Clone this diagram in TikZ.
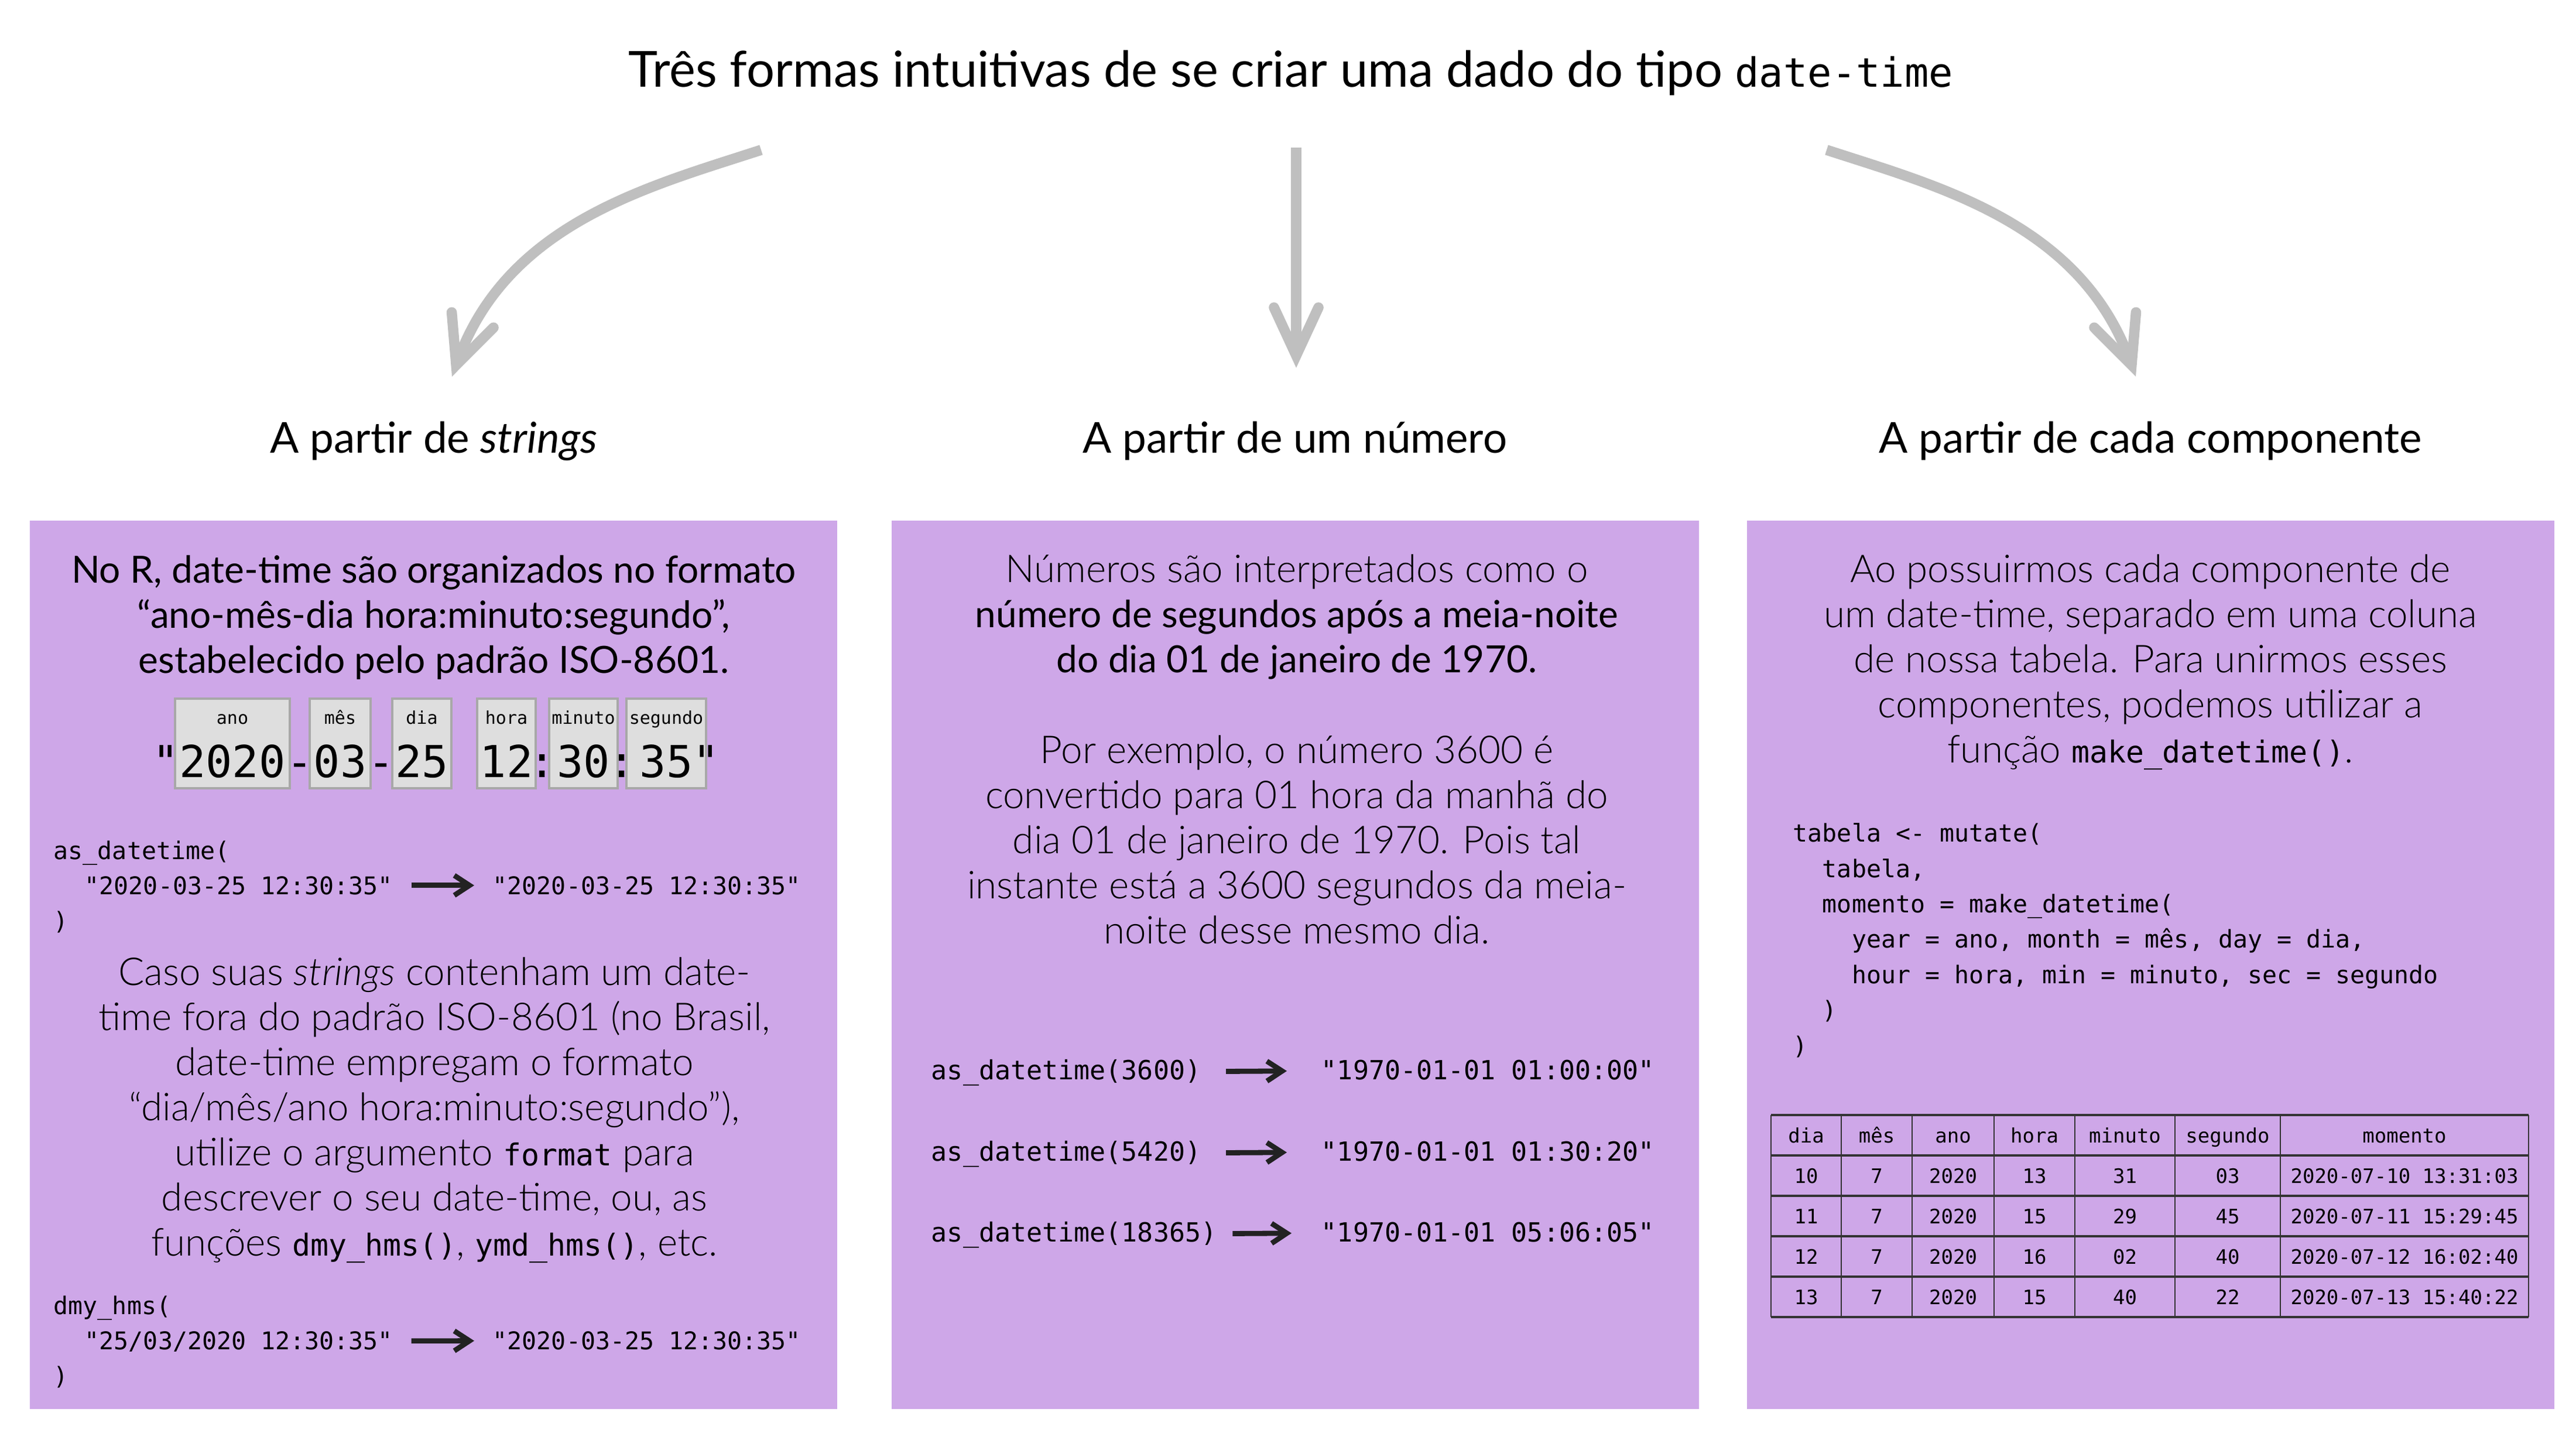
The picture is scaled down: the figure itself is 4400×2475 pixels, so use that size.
\documentclass[tikz,border=0pt]{standalone}
\usepackage{fontspec}
\setmainfont{Lato}
\newfontfamily\lightf{Lato Light}
\setmonofont{DejaVu Sans Mono}
\usetikzlibrary{arrows.meta}

\definecolor{panelc}{RGB}{206,167,232}
\definecolor{arrowgray}{RGB}{191,191,191}
\definecolor{boxfill}{RGB}{222,222,222}
\definecolor{boxline}{RGB}{168,168,168}
\definecolor{ink}{RGB}{34,34,34}
\definecolor{tline}{RGB}{51,51,51}

\newcommand\ic[1]{{\fontsize{12.9pt}{19.25pt}\ttfamily #1}}
\newcommand\lightsz{\lightf\fontsize{16.4pt}{19.25pt}\selectfont}

\begin{document}
\begin{tikzpicture}[x=0.25pt,y=-0.25pt,
  panel/.style={fill=panelc},
  bigarrow/.style={draw=arrowgray, line width=4.4pt,
    -{Straight Barb[length=20.5pt,width=19pt,line cap=round,line join=miter]}},
  codearrow/.style={draw=ink, line width=2.2pt,
    -{Straight Barb[length=6.5pt,width=8.5pt]}},
  titletext/.style={font=\fontsize{21.2pt}{25pt}\selectfont, inner sep=0pt, anchor=base},
  subtitle/.style={font=\fontsize{18.2pt}{22pt}\selectfont, inner sep=0pt, anchor=base},
  para/.style={font=\fontsize{16pt}{19.25pt}\selectfont, align=center, inner sep=0pt, anchor=base},
  lpara/.style={para, font=\lightsz},
  codetxt/.style={font=\fontsize{10.4pt}{15.1pt}\selectfont\ttfamily, inner sep=0pt, anchor=base west, align=left},
  mcodetxt/.style={codetxt, font=\fontsize{11.25pt}{15pt}\selectfont\ttfamily},
  tbox/.style={fill=boxfill, draw=boxline, line width=1pt},
  tlabel/.style={font=\fontsize{7.5pt}{9pt}\selectfont\ttfamily, inner sep=0pt, anchor=base},
  tdigit/.style={font=\fontsize{18.8pt}{22pt}\selectfont\ttfamily, inner sep=0pt, anchor=base},
  tcell/.style={font=\fontsize{8.5pt}{10pt}\selectfont\ttfamily, inner sep=0pt, anchor=base},
  thline/.style={draw=tline, line width=1.1pt},
  tvline/.style={draw=tline, line width=0.5pt},
]
\useasboundingbox (0,0) rectangle (4400,2475);
\fill[white] (0,0) rectangle (4400,2475);

% title and subtitles (multi-line nodes are anchored at the baseline of their last line)
\node[titletext] (title) at (2205,148) {Três formas intuitivas de se criar uma dado do tipo {\fontsize{17.2pt}{20pt}\ttfamily date-time}};
\node[subtitle] (sL) at (741,773) {A partir de \textit{strings}};
\node[subtitle] (sM) at (2212,773) {A partir de um número};
\node[subtitle] (sR) at (3673,773) {A partir de cada componente};

% big arrows
\coordinate (aL0) at (1300,256); \coordinate (aL1) at (772,643);
\coordinate (aM0) at (2214,252); \coordinate (aM1) at (2214,628);
\coordinate (aR0) at (3120,256); \coordinate (aR1) at (3648,643);
\draw[bigarrow] (aL0) .. controls (1110,318) and (868,380) .. (aL1);
\draw[bigarrow] (aM0) -- (aM1);
\draw[bigarrow] (aR0) .. controls (3310,318) and (3552,380) .. (aR1);

% panels
\fill[panel] (51,889) rectangle (1430,2406);
\fill[panel] (1523,889) rectangle (2902,2406);
\fill[panel] (2984,889) rectangle (4363,2406);

% ---------- left panel ----------
\node[para] (lp1) at (741,1149) {No R, date-time são organizados no formato\\“ano-mês-dia hora:minuto:segundo”,\\estabelecido pelo padrão ISO-8601.};

\foreach \n/\xa/\xb/\lab/\dig in {ano/299/495/ano/2020, mes/529/633/mês/03, dia/670/771/dia/25, hora/815/915/hora/12, min/938/1055/minuto/30, seg/1070/1206/segundo/35}{
  \draw[tbox] (\xa,1193) rectangle (\xb,1346);
  \node[tlabel] (lab-\n) at ({(\xa+\xb)/2},1236) {\lab};
  \node[tdigit] (dig-\n) at ({(\xa+\xb)/2},1327) {\dig};
}
\node[tdigit] (q1) at (283,1327) {"};
\node[tdigit] (s1) at (512,1327) {-};
\node[tdigit] (s2) at (651,1327) {-};
\node[tdigit] (k1) at (926.5,1327) {:};
\node[tdigit] (k2) at (1062.5,1327) {:};
\node[tdigit] (q2) at (1206,1327) {"};

\node[codetxt] (c1a) at (91,1467) {as\_datetime(};
\node[codetxt] (c1b) at (144,1527) {"2020-03-25 12:30:35"};
\node[codetxt] (c1c) at (841,1527) {"2020-03-25 12:30:35"};
\node[codetxt] (c1d) at (91,1587) {)};
\draw[codearrow, shorten <=7.75pt, shorten >=7.75pt] (c1b) -- (c1c);

\node[lpara] (lp2) at (742,2144) {Caso suas \textit{strings} contenham um date-\\time fora do padrão ISO-8601 (no Brasil,\\date-time empregam o formato\\“dia/mês/ano hora:minuto:segundo”),\\utilize o argumento \ic{format} para\\descrever o seu date-time, ou, as\\funções \ic{dmy\_hms()}, \ic{ymd\_hms()}, etc.};

\node[codetxt] (c2a) at (91,2244) {dmy\_hms(};
\node[codetxt] (c2b) at (144,2304) {"25/03/2020 12:30:35"};
\node[codetxt] (c2c) at (841,2304) {"2020-03-25 12:30:35"};
\node[codetxt] (c2d) at (91,2364) {)};
\draw[codearrow, shorten <=7.75pt, shorten >=7.75pt] (c2b) -- (c2c);

% ---------- middle panel ----------
\node[para] (mp1) at (2215,1148) {{\lightsz Números são interpretados como o}\\número de segundos após a meia-noite\\do dia 01 de janeiro de 1970.};
\node[lpara] (mp2) at (2215,1611) {Por exemplo, o número 3600 é\\convertido para 01 hora da manhã do\\dia 01 de janeiro de 1970. Pois tal\\instante está a 3600 segundos da meia-\\noite desse mesmo dia.};

\node[mcodetxt] (m1a) at (1590,1843) {as\_datetime(3600)};
\node[mcodetxt] (m1b) at (2256,1843) {"1970-01-01 01:00:00"};
\node[mcodetxt] (m2a) at (1590,1982) {as\_datetime(5420)};
\node[mcodetxt] (m2b) at (2256,1982) {"1970-01-01 01:30:20"};
\node[mcodetxt] (m3a) at (1590,2120) {as\_datetime(18365)};
\node[mcodetxt] (m3b) at (2256,2120) {"1970-01-01 05:06:05"};
\draw[codearrow, shorten <=10.5pt, shorten >=14.5pt] (m1a) -- (m1b);
\draw[codearrow, shorten <=10.5pt, shorten >=14.5pt] (m2a) -- (m2b);
\draw[codearrow, shorten <=6.5pt, shorten >=12.5pt] (m3a) -- (m3b);

% ---------- right panel ----------
\node[lpara] (rp1) at (3673,1302) {Ao possuirmos cada componente de\\um date-time, separado em uma coluna\\de nossa tabela. Para unirmos esses\\componentes, podemos utilizar a\\função \ic{make\_datetime()}.};

\node[codetxt] (rc) at (3062,1800) {tabela <- mutate(\\
\ \ tabela,\\
\ \ momento = make\_datetime(\\
\ \ \ \ year = ano, month = mês, day = dia,\\
\ \ \ \ hour = hora, min = minuto, sec = segundo\\
\ \ )\\
)};

% table
\foreach \y in {1904,1973,2042,2111,2180,2249} \draw[thline] (3025,\y) -- (4319,\y);
\foreach \x in {3025,3145,3266,3406,3544,3715,3895,4319} \draw[tvline] (\x,1904) -- (\x,2249);
\foreach [count=\i] \t/\x in {dia/3085,mês/3205.5,ano/3336,hora/3475,minuto/3629.5,segundo/3805,momento/4107}
  \node[tcell] (h\i) at (\x,1951) {\t};
\foreach [count=\r] \a/\b/\c/\d/\e/\f/\g in {10/7/2020/13/31/03/2020-07-10 13:31:03, 11/7/2020/15/29/45/2020-07-11 15:29:45, 12/7/2020/16/02/40/2020-07-12 16:02:40, 13/7/2020/15/40/22/2020-07-13 15:40:22}{
  \node[tcell] (r\r c1) at (3085,{1951+69*\r}) {\a};
  \node[tcell] (r\r c2) at (3205.5,{1951+69*\r}) {\b};
  \node[tcell] (r\r c3) at (3336,{1951+69*\r}) {\c};
  \node[tcell] (r\r c4) at (3475,{1951+69*\r}) {\d};
  \node[tcell] (r\r c5) at (3629.5,{1951+69*\r}) {\e};
  \node[tcell] (r\r c6) at (3805,{1951+69*\r}) {\f};
  \node[tcell] (r\r c7) at (4107,{1951+69*\r}) {\g};
}
\end{tikzpicture}
\end{document}
